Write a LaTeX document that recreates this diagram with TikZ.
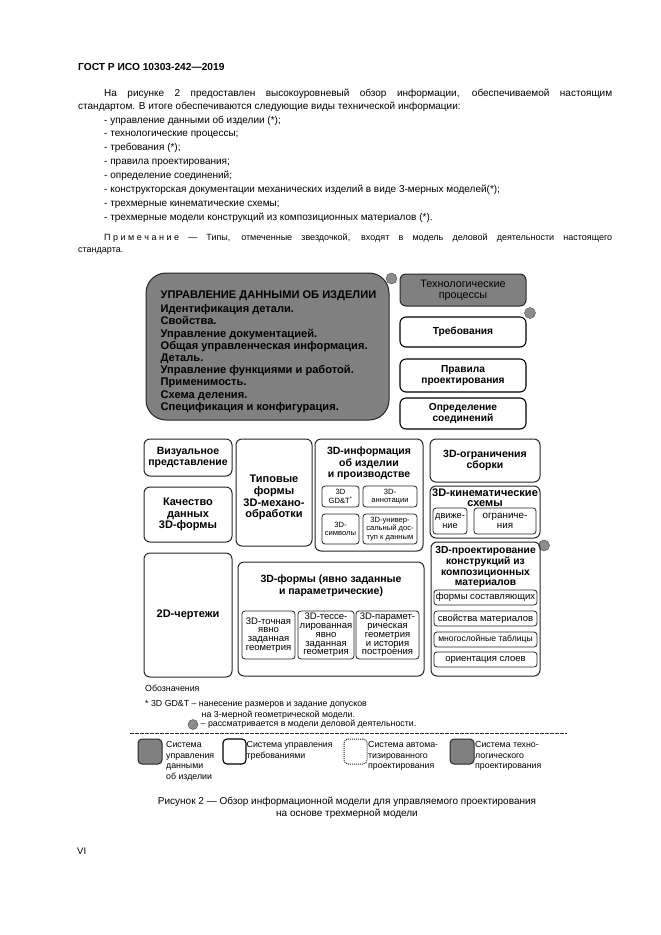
\documentclass[tikz,border=0pt]{standalone}
\usepackage{fontspec}
\setmainfont{Liberation Sans}

\begin{document}
\begin{tikzpicture}[x=1pt,y=-1pt,
    cadbox/.style={draw=black!85,line width=1pt,rounded corners=6pt,align=center,inner sep=1pt,
      font=\bfseries\fontsize{10.5}{11.5}\selectfont},
    reqbox/.style={cadbox,draw=black,line width=1.1pt,font=\bfseries\fontsize{10.2}{11.2}\selectfont},
    pdmbox/.style={cadbox,fill=black!50},
    subbox/.style={draw=black!85,line width=.8pt,rounded corners=3pt,align=center,inner sep=0pt,
      font=\fontsize{7.6}{8.5}\selectfont},
    bizdot/.style={circle,draw=black!70,fill=black!45,minimum size=11pt,inner sep=0pt},
    titletext/.style={anchor=north,align=center,inner sep=0pt,font=\bfseries\fontsize{10.5}{11.3}\selectfont},
    legtext/.style={anchor=north west,align=left,inner sep=0pt,font=\fontsize{8.8}{10.7}\selectfont}]

\fill[white] (0,0) rectangle (661,935);
\useasboundingbox (0,0) rectangle (661,935);

% page text
\begin{scope}[every node/.style={inner sep=0pt,anchor=base west,font=\fontsize{10}{12}\selectfont}]
  \node[font=\bfseries\fontsize{10.2}{12}\selectfont] (head) at (78,70.5) {ГОСТ Р ИСО 10303-242—2019};
  \node (par1) at (104,96) {\makebox[508pt][s]{На рисунке 2 предоставлен высокоуровневый обзор информации, обеспечиваемой настоящим}};
  \node (par2) at (78,109.5) {стандартом. В итоге обеспечиваются следующие виды технической информации:};
  \node (it1) at (104,123) {- управление данными об изделии (*);};
  \node (it2) at (104,136.9) {- технологические процессы;};
  \node (it3) at (104,150.8) {- требования (*);};
  \node (it4) at (104,164.7) {- правила проектирования;};
  \node (it5) at (104,178.6) {- определение соединений;};
  \node (it6) at (104,192.5) {- конструкторская документации механических изделий в виде 3-мерных моделей(*);};
  \node (it7) at (104,206.4) {- трехмерные кинематические схемы;};
  \node (it8) at (104,220.3) {- трехмерные модели конструкций из композиционных материалов (*).};
  \node[font=\fontsize{9}{12}\selectfont] (note1) at (104,240.2) {\makebox[508pt][s]{П\kern2.5pt р\kern2.5pt и\kern2.5pt м\kern2.5pt е\kern2.5pt ч\kern2.5pt а\kern2.5pt н\kern2.5pt и\kern2.5pt е — Типы, отмеченные звездочкой, входят в модель деловой деятельности настоящего}};
  \node[font=\fontsize{9}{12}\selectfont] (note2) at (78,252.8) {стандарта.};
\end{scope}

% product data management
\node[pdmbox,rounded corners=20pt,minimum width=243pt,minimum height=147pt] (pdm) at (267.5,346.5) {};
\node[anchor=north west,align=left,inner sep=0pt,font=\bfseries\fontsize{11.1}{12.2}\selectfont] (pdmlist) at (160.5,291)
  {УПРАВЛЕНИЕ ДАННЫМИ ОБ ИЗДЕЛИИ\\[1.6pt]
   Идентификация детали.\\
   Свойства.\\
   Управление документацией.\\
   Общая управленческая информация.\\
   Деталь.\\
   Управление функциями и работой.\\
   Применимость.\\
   Схема деления.\\
   Спецификация и конфигурация.};

% right column
\node[pdmbox,font=\fontsize{10.8}{11}\selectfont,minimum width=126pt,minimum height=32pt] (tech) at (463,290) {Технологические\\процессы};
\node[reqbox,minimum width=126pt,minimum height=30pt] (req) at (463,332) {Требования};
\node[reqbox,minimum width=126pt,minimum height=33pt] (rules) at (463,375.5) {Правила\\проектирования};
\node[reqbox,minimum width=126pt,minimum height=31pt] (joints) at (463,413.5) {Определение\\соединений};

\node[bizdot] (dot1) at (391.5,278.5) {};
\node[bizdot] (dot2) at (530,313) {};
\node[bizdot] (dot3) at (544,545.5) {};

% CAD part
\node[cadbox,minimum width=88pt,minimum height=37pt] (vis) at (188,457.5) {Визуальное\\представление};
\node[cadbox,font=\bfseries\fontsize{11}{11.7}\selectfont,minimum width=88pt,minimum height=55pt] (qual) at (188,514.5) {Качество\\данных\\3D-формы};
\node[cadbox,minimum width=76pt,minimum height=107pt] (mach) at (274,492.5) {};
\node[titletext,anchor=center,font=\bfseries\fontsize{11}{11.7}\selectfont] (machtext) at (274,497.5) {Типовые\\формы\\3D-механо-\\обработки};

\node[cadbox,minimum width=108pt,minimum height=112pt] (pmi) at (369,495) {};
\node[titletext] (pmititle) at (369,447) {3D-информация\\об изделии\\и производстве};
\node[subbox,minimum width=37pt,minimum height=21pt] (gdt) at (340.5,496.5) {3D\\GD\&T\textsuperscript{*}};
\node[subbox,minimum width=54pt,minimum height=21pt] (annot) at (390,496.5) {3D-\\аннотации};
\node[subbox,minimum width=37pt,minimum height=30pt] (symb) at (340.5,529) {3D-\\символы};
\node[subbox,minimum width=54pt,minimum height=30pt] (access) at (390,529) {3D-универ-\\сальный дос-\\туп к данным};

\node[cadbox,minimum width=110pt,minimum height=43pt] (asm) at (485,460.5) {3D-ограничения\\сборки};
\node[cadbox,minimum width=110pt,minimum height=52pt] (kin) at (485,512) {};
\node[titletext,font=\bfseries\fontsize{11}{9.8}\selectfont] (kintitle) at (485,488.5) {3D-кинематические\\схемы};
\node[subbox,font=\fontsize{9.2}{10.5}\selectfont,minimum width=34pt,minimum height=26pt] (motion) at (450,521) {движе-\\ние};
\node[subbox,font=\fontsize{9.8}{10.5}\selectfont,minimum width=62pt,minimum height=26pt] (limits) at (505,521) {ограниче-\\ния};

\node[cadbox,minimum width=109pt,minimum height=134pt] (comp) at (485.5,609) {};
\node[titletext,font=\bfseries\fontsize{10.3}{10.6}\selectfont] (comptitle) at (485.5,546.5) {3D-проектирование\\конструкций из\\композиционных\\материалов};
\begin{scope}[every node/.style={subbox,font=\fontsize{9.5}{10}\selectfont,minimum width=103pt,minimum height=15pt}]
  \node (plies)  at (485.5,597.5) {формы составляющих};
  \node (mater)  at (485.5,618.5) {свойства материалов};
  \node[font=\fontsize{8.6}{10}\selectfont] (tables) at (485.5,639.5) {многослойные таблицы};
  \node (orient) at (485.5,659.5) {ориентация слоев};
\end{scope}

\node[cadbox,font=\bfseries\fontsize{11}{12}\selectfont,minimum width=88pt,minimum height=124pt] (draw2d) at (188,615) {2D-чертежи};
\node[cadbox,minimum width=186pt,minimum height=114pt] (shapes) at (331,619) {};
\node[titletext] (shapestitle) at (331,575) {3D-формы (явно заданные\\и параметрические)};
\begin{scope}[every node/.style={subbox,font=\fontsize{9.5}{8.8}\selectfont,minimum height=48pt}]
  \node[minimum width=53pt] (exact) at (268.5,635) {3D-точная\\явно\\заданная\\геометрия};
  \node[minimum width=56pt] (tess)  at (326,635)   {3D-тессе-\\лированная\\явно\\заданная\\геометрия};
  \node[minimum width=63pt] (param) at (387.5,635) {3D-парамет-\\рическая\\геометрия\\и история\\построения};
\end{scope}

% legend
\node[legtext] (legtitle) at (145,685) {Обозначения};
\node[legtext] (legstar) at (145,700) {* 3D GD\&T – нанесение размеров и задание допусков};
\node[legtext] (legstar2) at (201.5,710.5) {на 3-мерной геометрической модели.};
\node[bizdot,minimum size=10pt] (legdot) at (193,724.5) {};
\node[legtext,anchor=west] (legdottext) at (200.5,724.5) {– рассматривается в модели деловой деятельности.};

\coordinate (sepl) at (130,733);
\coordinate (sepr) at (567,733);
\draw[black!80,line width=.9pt,dash pattern=on 3.5pt off 1.5pt] (sepl) -- (sepr);

\node[pdmbox,rounded corners=4pt,minimum width=24pt,minimum height=25pt] (keypdm) at (150,751.5) {};
\node[reqbox,rounded corners=4pt,minimum width=23pt,minimum height=25pt] (keyreq) at (234.5,751.5) {};
\node[cadbox,densely dotted,rounded corners=4pt,minimum width=23pt,minimum height=25pt] (keycad) at (355.5,751.5) {};
\node[pdmbox,rounded corners=4pt,minimum width=24pt,minimum height=25pt] (keytech) at (462,751.5) {};
\node[legtext] (keypdmtext) at (166,741) {Система\\управления\\данными\\об изделии};
\node[legtext] (keyreqtext) at (246.5,741) {Система управления\\требованиями};
\node[legtext] (keycadtext) at (368,741) {Система автома-\\тизированного\\проектирования};
\node[legtext] (keytechtext) at (475,741) {Система техно-\\логического\\проектирования};

% caption
\begin{scope}[every node/.style={inner sep=0pt,anchor=base,font=\fontsize{10}{12}\selectfont}]
  \node (cap1) at (347,804.5) {Рисунок 2 — Обзор информационной модели для управляемого проектирования};
  \node (cap2) at (347,816.5) {на основе трехмерной модели};
\end{scope}
\node[inner sep=0pt,anchor=base west,font=\fontsize{9.5}{12}\selectfont] (folio) at (77,854) {VI};

\end{tikzpicture}
\end{document}
